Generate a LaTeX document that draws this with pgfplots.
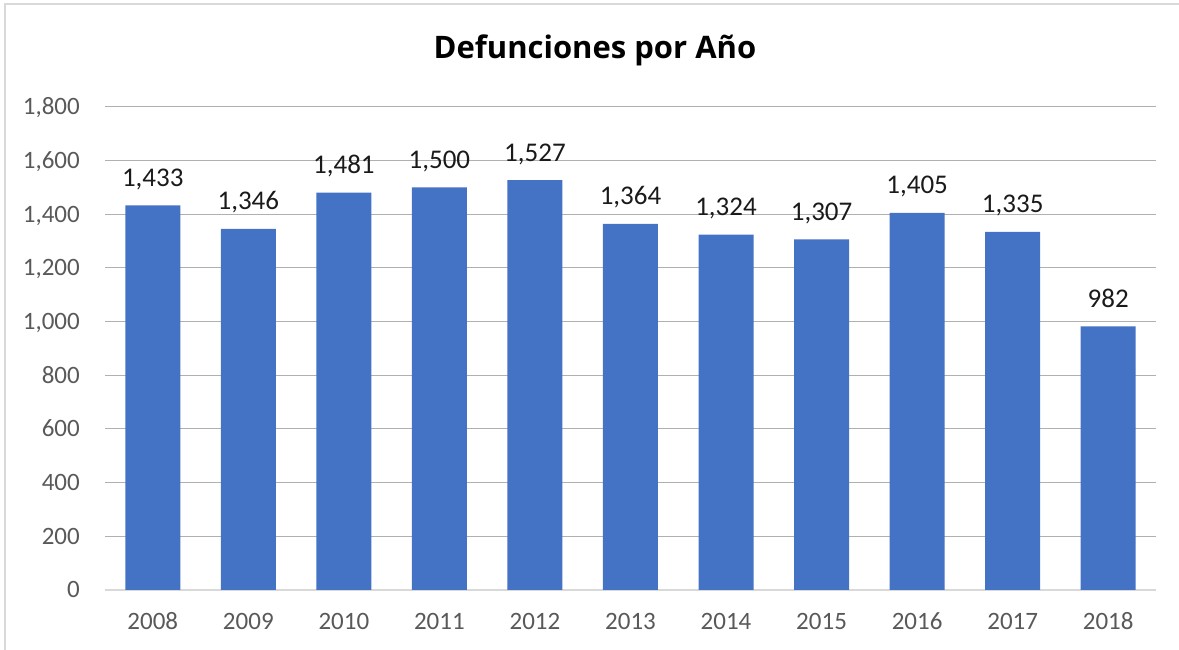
\documentclass[border=0pt]{standalone}
\usepackage{pgfplots}
\pgfplotsset{compat=1.18}
\usepackage{fontspec}
\setmainfont{Carlito}
\newfontfamily\titlefont{Open Sans}
\definecolor{barblue}{HTML}{4472C4}
\definecolor{ticklab}{HTML}{595959}
\definecolor{labc}{HTML}{1A1A1A}
\definecolor{gridc}{HTML}{B0B0B0}
\definecolor{axisc}{HTML}{D9D9D9}
\definecolor{framec}{HTML}{D9D9D9}
\begin{document}
\begin{tikzpicture}
\path[use as bounding box] (0pt,0pt) rectangle (1179pt,650pt);
\draw[framec, line width=2.5pt] (5pt,-2pt) -- (5pt,646pt) -- (1182pt,646pt);
\begin{axis}[
  at={(105pt,60pt)}, anchor=south west,
  scale only axis, width=1051pt, height=483pt,
  xmin=-0.5, xmax=10.5, ymin=0, ymax=1800,
  ybar, bar width=55pt,
  xtick=data, xticklabels={2008,2009,2010,2011,2012,2013,2014,2015,2016,2017,2018},
  ytick={0,200,400,600,800,1000,1200,1400,1600,1800},
  ymajorgrids, grid style={gridc, line width=1pt},
  axis x line=bottom, axis y line=left,
  x axis line style={-, axisc, line width=2pt},
  y axis line style={draw=none},
  major tick length=0pt, tick style={draw=none},
  /pgf/number format/1000 sep={,},
  /pgf/number format/assume math mode=true,
  nodes near coords,
  nodes near coords style={font=\fontsize{27}{32}\selectfont, text=labc, anchor=base, yshift=19pt, inner sep=0pt},
  yticklabel style={font=\fontsize{25}{30}\selectfont, text=ticklab, anchor=base east, inner sep=0pt, xshift=-25pt, yshift=-7.8pt},
  xticklabel style={font=\fontsize{25}{30}\selectfont, text=ticklab, anchor=base, inner sep=0pt, yshift=-40pt},
]
\addplot[fill=barblue, draw=none] coordinates {(0,1433) (1,1346) (2,1481) (3,1500) (4,1527) (5,1364) (6,1324) (7,1307) (8,1405) (9,1335) (10,982)};
\end{axis}
\node[anchor=base, font=\titlefont\fontsize{31}{37}\selectfont\bfseries] at (595pt,591pt) {Defunciones por Año};
\end{tikzpicture}
\end{document}
